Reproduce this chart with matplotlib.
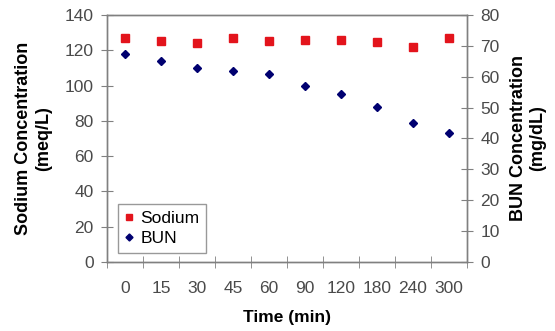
import matplotlib
matplotlib.use("Agg")
import matplotlib.pyplot as plt
import numpy as np

times = ["0", "15", "30", "45", "60", "90", "120", "180", "240", "300"]
sodium = [127, 125.5, 124, 127, 125.5, 126, 126, 124.5, 122, 127]
bun = [67.3, 65.1, 62.7, 61.9, 61.0, 57.0, 54.5, 50.3, 45.1, 41.7]

plt.rcParams['font.family'] = ['Liberation Sans', 'DejaVu Sans']
gray = '#808080'
tickc = '#4a4a4a'
fs = 12.5

fig = plt.figure(figsize=(5.55, 3.31), dpi=100)
ax = fig.add_axes([0.1928, 0.2085, 0.6486, 0.7462])
ax2 = ax.twinx()

x = np.arange(len(times))
h1, = ax.plot(x, sodium, linestyle='none', marker='s', markersize=5.8,
              color='#e3141c', label='Sodium')
h2, = ax2.plot(x, bun, linestyle='none', marker='D', markersize=4.2,
               color='#000070', label='BUN')

ax.set_xlim(-0.5, len(times) - 0.5)
ax.set_ylim(0, 140)
ax2.set_ylim(0, 80)
ax.set_yticks(np.arange(0, 141, 20))
ax2.set_yticks(np.arange(0, 81, 10))
ax.set_xticks(x)
ax.set_xticklabels(times)
ax.set_xticks(np.arange(-0.5, len(times)), minor=True)
ax.tick_params(axis='x', which='major', length=0, pad=14, labelsize=fs, colors=tickc)
ax.tick_params(axis='x', which='minor', length=9, direction='inout', color=gray)
ax.tick_params(axis='y', length=9, direction='inout', color=gray, labelsize=fs,
               labelcolor=tickc, pad=5)
ax2.tick_params(axis='y', length=9, direction='inout', color=gray, labelsize=fs,
                labelcolor=tickc, pad=5)

for a in (ax, ax2):
    for s in a.spines.values():
        s.set_color(gray)
        s.set_linewidth(1.0)

ax.set_xlabel('Time (min)', fontsize=fs, fontweight='bold', labelpad=10)
ax.set_ylabel('Sodium Concentration\n(meq/L)', fontsize=13, fontweight='bold',
              linespacing=1.25)
ax.yaxis.set_label_coords(-0.152, 0.5)
ax2.set_ylabel('BUN Concentration\n(mg/dL)', fontsize=13, fontweight='bold',
               rotation=90, linespacing=1.15)
ax2.yaxis.set_label_coords(1.12, 0.5)

leg = ax.legend(handles=[h1, h2], loc='lower left', bbox_to_anchor=(0.03, 0.035),
                fontsize=fs, frameon=True, fancybox=False, handlelength=0.5,
                handletextpad=0.4, borderpad=0.4, labelspacing=0.3,
                borderaxespad=0, markerscale=0.85)
leg.get_frame().set_edgecolor(gray)
leg.get_frame().set_linewidth(1.0)

fig.savefig('out.png', dpi=100)
